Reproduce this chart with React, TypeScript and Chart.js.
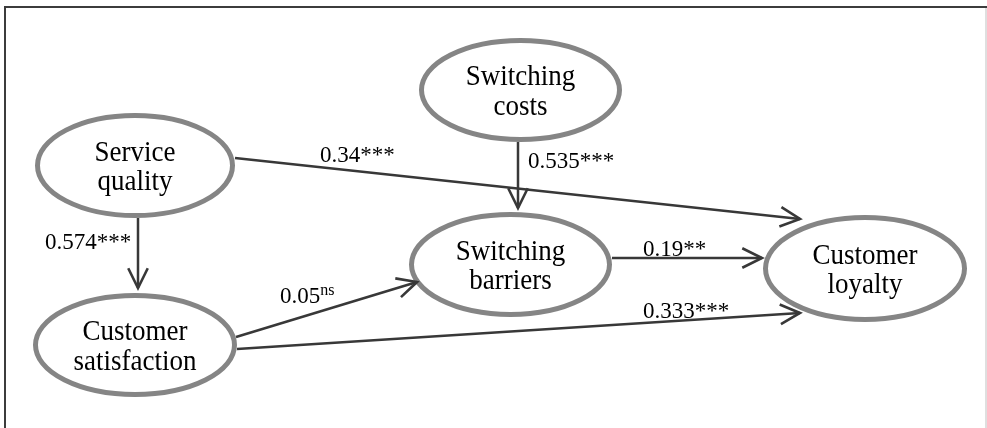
import React, { useEffect, useRef } from "react";
import { Chart, registerables } from "chart.js";

Chart.register(...registerables);

// ---- Nodes (diagram coordinates, same units as the axes) ----
const nodeLine1 = ["Service", "Switching", "Customer", "Switching", "Customer"];
const nodeLine2 = ["quality", "costs", "satisfaction", "barriers", "loyalty"];
const nodeX = [135, 520.5, 135, 510.5, 865];
const nodeY = [165.5, 90, 345, 264.5, 268.5];
const nodeRx = [97.5, 99, 99.5, 99, 99.5];
const nodeRy = [50, 49.5, 49.5, 50, 51];

// ---- Paths (start / end anchor points) ----
const edgeX1 = [235, 518, 138, 612, 236, 237];
const edgeY1 = [158, 142, 218, 258, 337, 349];
const edgeX2 = [800, 518, 138, 762, 417, 800];
const edgeY2 = [219, 208, 288, 258, 282, 313];

// ---- Path coefficients ----
const coefText = ["0.34***", "0.535***", "0.574***", "0.19**", "0.05", "0.333***"];
const coefSup = ["", "", "", "", "ns", ""];
const coefX = [320, 528, 45, 643, 280, 643];
const coefY = [162, 168, 249, 256, 303, 318];

const SERIF = '"Liberation Serif", "Times New Roman", serif';

const diagramPlugin = {
  id: "pathDiagram",
  beforeDatasetsDraw(chart: any) {
    const ctx = chart.ctx;
    const xs = chart.scales.x;
    const ys = chart.scales.y;
    ctx.save();
    // frame
    ctx.strokeStyle = "#3c3c3c";
    ctx.lineWidth = 2;
    ctx.beginPath();
    ctx.moveTo(xs.getPixelForValue(4), ys.getPixelForValue(7));
    ctx.lineTo(xs.getPixelForValue(987), ys.getPixelForValue(7));
    ctx.moveTo(xs.getPixelForValue(5), ys.getPixelForValue(6));
    ctx.lineTo(xs.getPixelForValue(5), ys.getPixelForValue(428));
    ctx.stroke();
    ctx.strokeStyle = "#d4d4d4";
    ctx.lineWidth = 1.5;
    ctx.beginPath();
    ctx.moveTo(xs.getPixelForValue(986), ys.getPixelForValue(8));
    ctx.lineTo(xs.getPixelForValue(986), ys.getPixelForValue(428));
    ctx.stroke();
    // ellipses
    for (let i = 0; i < nodeX.length; i++) {
      const cx = xs.getPixelForValue(nodeX[i]);
      const cy = ys.getPixelForValue(nodeY[i]);
      const rx = Math.abs(xs.getPixelForValue(nodeX[i] + nodeRx[i]) - cx);
      const ry = Math.abs(ys.getPixelForValue(nodeY[i] + nodeRy[i]) - cy);
      ctx.beginPath();
      ctx.ellipse(cx, cy, rx, ry, 0, 0, Math.PI * 2);
      ctx.fillStyle = "#ffffff";
      ctx.fill();
      ctx.strokeStyle = "#858585";
      ctx.lineWidth = 5;
      ctx.stroke();
    }
    ctx.restore();
  },
  afterDatasetsDraw(chart: any) {
    const ctx = chart.ctx;
    const xs = chart.scales.x;
    const ys = chart.scales.y;
    ctx.save();
    // arrowheads
    chart.data.datasets.forEach((_: any, di: number) => {
      const meta = chart.getDatasetMeta(di);
      const p0 = meta.data[0];
      const p1 = meta.data[1];
      const ang = Math.atan2(p1.y - p0.y, p1.x - p0.x);
      const len = 22;
      const spread = 0.46;
      ctx.beginPath();
      ctx.moveTo(p1.x - len * Math.cos(ang - spread), p1.y - len * Math.sin(ang - spread));
      ctx.lineTo(p1.x, p1.y);
      ctx.lineTo(p1.x - len * Math.cos(ang + spread), p1.y - len * Math.sin(ang + spread));
      ctx.strokeStyle = "#383838";
      ctx.lineWidth = 2.6;
      ctx.lineJoin = "miter";
      ctx.stroke();
    });
    // node text (slightly tall, like the source)
    ctx.fillStyle = "#000000";
    ctx.textAlign = "center";
    ctx.textBaseline = "alphabetic";
    ctx.font = `27px ${SERIF}`;
    for (let i = 0; i < nodeX.length; i++) {
      const cx = xs.getPixelForValue(nodeX[i]);
      const lines = [nodeLine1[i], nodeLine2[i]];
      const offs = [-5, 24.5];
      for (let k = 0; k < 2; k++) {
        const by = ys.getPixelForValue(nodeY[i] + offs[k]);
        ctx.save();
        ctx.translate(cx, by);
        ctx.scale(1, 1.1);
        ctx.fillText(lines[k], 0, 0);
        ctx.restore();
      }
    }
    // coefficient labels
    ctx.textAlign = "left";
    for (let i = 0; i < coefText.length; i++) {
      const x = xs.getPixelForValue(coefX[i]);
      const y = ys.getPixelForValue(coefY[i]);
      ctx.font = `23px ${SERIF}`;
      ctx.fillText(coefText[i], x, y);
      if (coefSup[i]) {
        const w = ctx.measureText(coefText[i]).width;
        ctx.font = `16px ${SERIF}`;
        ctx.fillText(coefSup[i], x + w, y - 8);
      }
    }
    ctx.restore();
  },
};

export default function App() {
  const ref = useRef<HTMLCanvasElement | null>(null);
  useEffect(() => {
    if (!ref.current) return;
    const datasets = edgeX1.map((_, i) => ({
      data: [
        { x: edgeX1[i], y: edgeY1[i] },
        { x: edgeX2[i], y: edgeY2[i] },
      ],
      showLine: true,
      borderColor: "#383838",
      borderWidth: 2.5,
      pointRadius: 0,
      pointHoverRadius: 0,
    }));
    const chart = new Chart(ref.current, {
      type: "scatter",
      data: { datasets },
      options: {
        animation: false,
        responsive: false,
        layout: { padding: 0 },
        events: [],
        scales: {
          x: { type: "linear", min: 0, max: 987, display: false },
          y: { type: "linear", min: 0, max: 428, reverse: true, display: false },
        },
        plugins: { legend: { display: false }, tooltip: { enabled: false } },
      },
      plugins: [diagramPlugin],
    } as any);
    return () => chart.destroy();
  }, []);
  return (
    <div style={{ position: "fixed", left: 0, top: 0, width: 987, height: 428, background: "#ffffff" }}>
      <canvas ref={ref} width={987} height={428} style={{ display: "block" }} />
    </div>
  );
}
